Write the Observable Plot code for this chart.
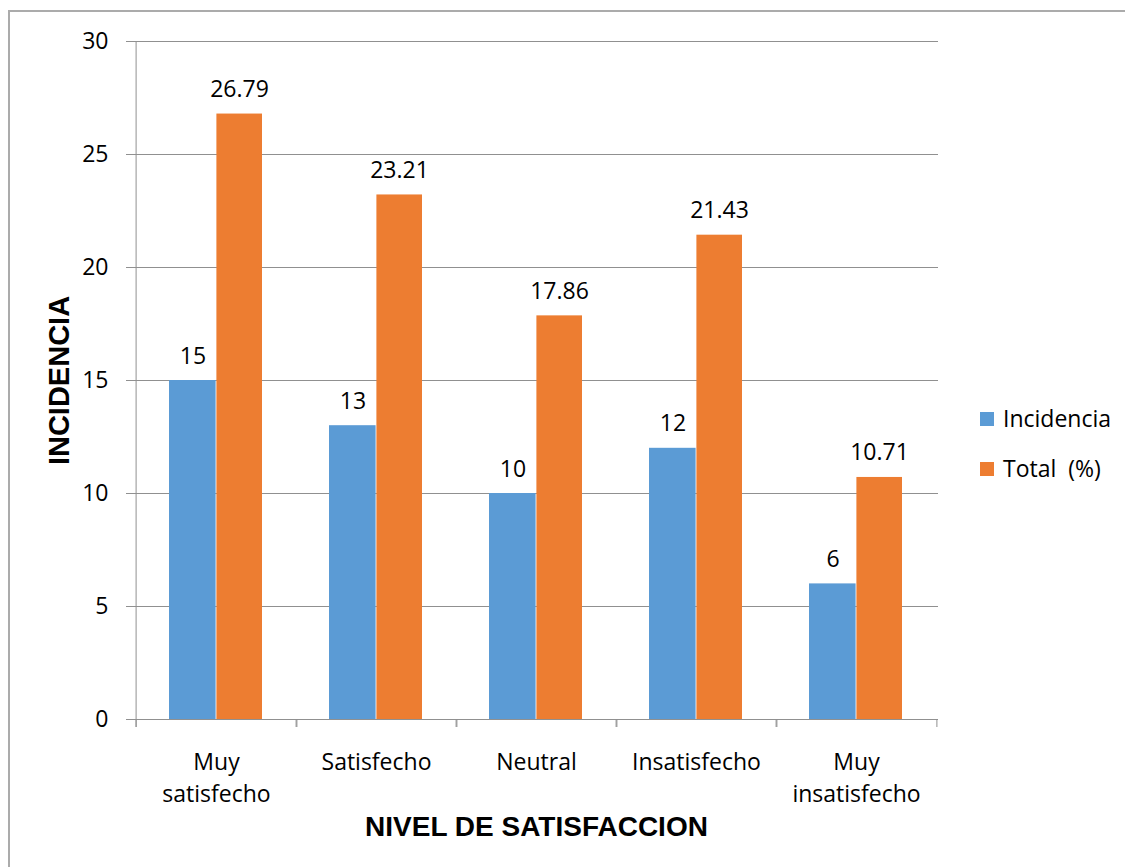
<!DOCTYPE html>
<html>
<head>
<meta charset="utf-8">
<script src="https://cdn.jsdelivr.net/npm/d3@7"></script>
<script src="https://cdn.jsdelivr.net/npm/@observablehq/plot@0.6"></script>
<style>
  html, body { margin: 0; padding: 0; background: #fff; }
  #wrap { position: relative; width: 1125px; height: 867px; overflow: hidden; font-family: 'Open Sans', sans-serif; }
  #border { position: absolute; left: 8px; top: 10px; width: 1200px; height: 900px; border-left: 2px solid #ababab; border-top: 2px solid #ababab; pointer-events: none; }
  .leg { position: absolute; left: 980px; display: flex; align-items: center; height: 23px; font-size: 23px; line-height: 23px; color: #000; white-space: pre; }
  .sw { width: 14px; height: 14px; margin-right: 9px; }
</style>
</head>
<body>
<div id="wrap"><div id="border"></div></div>
<script>
const categories = ["Muy\nsatisfecho", "Satisfecho", "Neutral", "Insatisfecho", "Muy\ninsatisfecho"];
const incidencia = [15, 13, 10, 12, 6];
const total = [26.79, 23.21, 17.86, 21.43, 10.71];
const seriesNames = ["Incidencia", "Total  (%)"];
const seriesColors = ["#5B9BD5", "#ED7D31"];
const yTicks = [0, 5, 10, 15, 20, 25, 30];
const xTitle = "NIVEL DE SATISFACCION";
const yTitle = "INCIDENCIA";

const rows = categories.map((c, i) => ({cat: c, inc: incidencia[i], tot: total[i]}));

const W = 1125, H = 867;
const mL = 134, mR = 187, mT = 41, mB = 148;
const bw = (W - mL - mR) / categories.length;
const axisGray = "#909090";
const tickFont = 23;
const titleFont = "'Liberation Sans', Arial, sans-serif";

const plot = Plot.plot({
  width: W,
  height: H,
  marginLeft: mL,
  marginRight: mR,
  marginTop: mT,
  marginBottom: mB,
  style: {fontFamily: "'Open Sans', sans-serif", fontSize: tickFont + "px", background: "transparent", color: "#000"},
  x: {type: "band", domain: categories, padding: 0},
  y: {domain: [0, 30]},
  marks: [
    Plot.gridY(yTicks, {stroke: axisGray, strokeOpacity: 1, strokeWidth: 1}),
    Plot.axisY({ticks: yTicks, tickSize: 8, tickPadding: 18, fontSize: tickFont, stroke: axisGray, fill: "#000", label: null}),
    Plot.axisX({tickSize: 0, tickPadding: 28, fontSize: tickFont, lineHeight: 1.39, fill: "#000", label: null}),
    Plot.barY(rows, {x: "cat", y: "inc", fill: seriesColors[0], insetLeft: 33, insetRight: bw / 2}),
    Plot.barY(rows, {x: "cat", y: "tot", fill: seriesColors[1], insetLeft: bw / 2, insetRight: 34}),
    Plot.ruleX([categories[0]], {x: d => d, dx: -bw / 2, stroke: axisGray, insetBottom: -8}),
    Plot.ruleX(categories, {x: d => d, y1: 0, y2: 0, dx: -bw / 2, stroke: axisGray, insetBottom: -8}),
    Plot.ruleX(categories, {x: d => d, y1: 0, y2: 0, dx: bw / 2, stroke: axisGray, insetBottom: -8}),
    Plot.text(rows, {x: "cat", y: "inc", text: d => String(d.inc), dx: -23.5, dy: -17, lineAnchor: "bottom", fontSize: tickFont, fill: "#000"}),
    Plot.text(rows, {x: "cat", y: "tot", text: d => d.tot.toFixed(2), dx: 23, dy: -17, lineAnchor: "bottom", fontSize: tickFont, fill: "#000"}),
    Plot.text([yTitle], {frameAnchor: "left", textAnchor: "middle", rotate: -90, dx: -66, lineAnchor: "bottom", fontSize: 29, fontWeight: "bold", fontFamily: titleFont, fill: "#000"}),
    Plot.text([xTitle], {frameAnchor: "bottom", textAnchor: "middle", dy: 116, lineAnchor: "bottom", fontSize: 28, fontWeight: "bold", fontFamily: titleFont, fill: "#000"})
  ]
});

const wrap = document.getElementById("wrap");
plot.style.position = "absolute";
plot.style.left = "0px";
plot.style.top = "0px";
wrap.insertBefore(plot, wrap.firstChild);

seriesNames.forEach((name, i) => {
  const row = document.createElement("div");
  row.className = "leg";
  row.style.top = (407 + 50 * i) + "px";
  const sw = document.createElement("div");
  sw.className = "sw";
  sw.style.background = seriesColors[i];
  const t = document.createElement("span");
  t.textContent = name;
  row.appendChild(sw);
  row.appendChild(t);
  wrap.appendChild(row);
});
</script>
</body>
</html>
